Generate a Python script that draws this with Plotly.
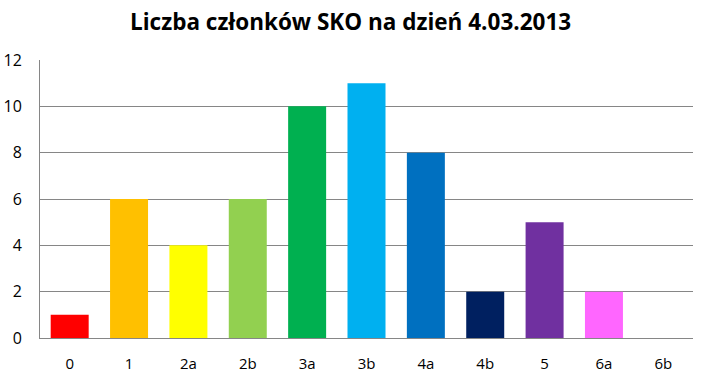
import plotly.graph_objects as go

categories = ["0", "1", "2a", "2b", "3a", "3b", "4a", "4b", "5", "6a", "6b"]
values = [1, 6, 4, 6, 10, 11, 8, 2, 5, 2, 0]
colors = ["#FF0000", "#FFC000", "#FFFF00", "#92D050", "#00B050", "#00B0F0",
          "#0070C0", "#002060", "#7030A0", "#FF66FF", "#C0C0C0"]
y_ticks = [0, 2, 4, 6, 8, 10, 12]

fig = go.Figure(go.Bar(
    x=categories, y=values, marker=dict(color=colors, line=dict(width=0)),
    width=0.64, hoverinfo="x+y"))

fig.update_layout(
    width=704, height=380,
    margin=dict(l=40, r=11, t=60, b=42, autoexpand=False),
    paper_bgcolor="white", plot_bgcolor="white",
    title=dict(text="<b>Liczba członków SKO na dzień 4.03.2013</b>",
               x=0.498, xanchor="center", y=0.942, yanchor="middle",
               font=dict(family="Open Sans, Liberation Sans, sans-serif", size=22.5, color="black")),
    font=dict(family="Open Sans, Liberation Sans, sans-serif", size=15, color="black"),
    showlegend=False,
    bargap=0.36,
)
fig.update_xaxes(type="category", showgrid=False, ticks="", showline=True, automargin=False,
                 linecolor="#868686", linewidth=1, tickfont=dict(size=15), ticklabelstandoff=12)
fig.update_yaxes(range=[0, 12], tickvals=y_ticks, showgrid=True, gridcolor="#868686",
                 gridwidth=1, showline=True, linecolor="#868686", linewidth=1, automargin=False,
                 zeroline=False, ticks="", ticklabelstandoff=14, tickfont=dict(size=16))

fig.write_html("out.html", config={"displayModeBar": False},
               post_script="document.body.style.margin='0';document.body.style.overflow='hidden';")
